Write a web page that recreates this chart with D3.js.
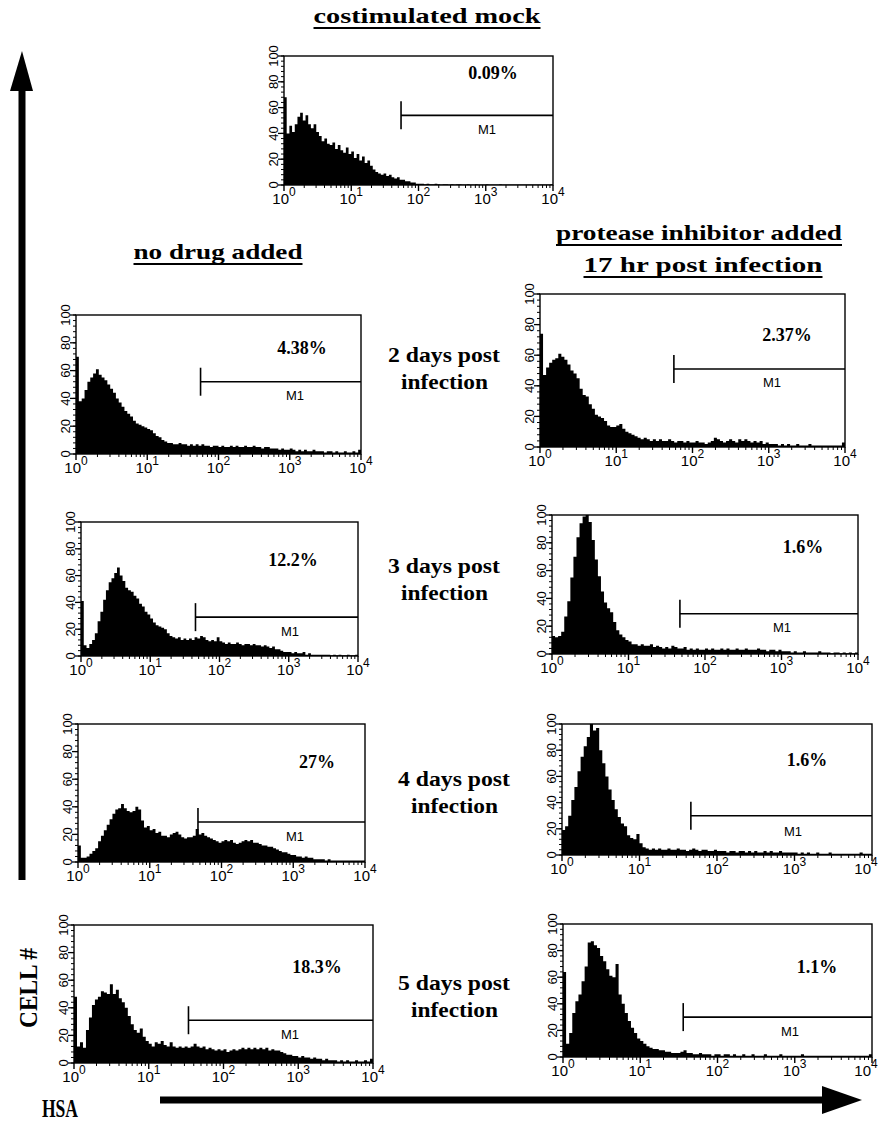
<!DOCTYPE html>
<html><head><meta charset="utf-8">
<script src="https://cdn.jsdelivr.net/npm/d3@7"></script>
<style>body{margin:0;background:#fff}svg{display:block}</style>
</head><body><svg id="c" width="881" height="1125"></svg>
<script>
// ---------- DATA ----------
const panelNames = ["costimulated mock","no drug 2d","PI 2d","no drug 3d","PI 3d","no drug 4d","PI 4d","no drug 5d","PI 5d"];
const percentLabels = ["0.09%","4.38%","2.37%","12.2%","1.6%","27%","1.6%","18.3%","1.1%"];
const m1Start = [55,56,57,45,47,47,46,34,36];   // HSA value where gate M1 starts
const m1Level = [54,52,51,29,29,29,30,31,30];   // cell # level of the M1 bar
const yTickValues = [0,20,40,60,80,100];
const xTickExponents = [0,1,2,3,4];
const rowLabels = ["2 days post","3 days post","4 days post","5 days post"];

// histogram counts, 100 channels over 10^0..10^4 (25 per decade)
const mock = [68,40,46,41,47,53,56,50,54,47, 44,47,41,38,34,36,32,31,33,28, 31,27,25,29,24,26,21,24,19,22, 17,19,15,12,10,9,8,9,7,8, 6,5,6,4,4,3,3,2,2,1, 1,1,0.5,1,0.5,0.5,1,0.5,0.3,0.5, 0.5,0.3,0.5,0.3,0.5,0.5,0.3,0.3,0.5,0.3, 0.3,0.5,0.3,0.3,0.3,0.5,0.3,0.3,0.3,0.3, 0.5,0.3,0.3,0.3,0.3,0.3,0.3,0.3,0.3,0.3, 0.3,0.3,0.3,0.3,0.3,0.3,0.3,0.3,0.3,0.5];
const noDrug2 = [70,38,40,46,52,55,58,61,57,55, 53,50,47,44,40,37,34,31,29,27, 24,22,21,20,19,18,17,15,13,12, 10,9,8,8,7,7,8,7,7,6, 7,6,7,6,7,6,6,5,6,6, 5,6,5,5,6,5,6,5,5,6, 5,5,6,5,5,4,5,5,4,4, 4,3,4,3,3,4,3,2,3,2, 3,2,2,3,2,2,2,1,2,2, 1,2,1,1,2,1,1,2,1,3];
const protInh2 = [74,47,52,55,57,58,61,59,57,54, 50,48,45,38,34,33,28,25,21,20, 19,17,14,13,13,14,15,12,10,9, 8,7,6,5,6,5,4,5,4,5, 4,4,5,4,3,4,4,3,4,3, 3,4,3,3,2,3,4,6,5,4, 3,4,5,4,3,5,4,5,4,3, 4,3,4,2,3,2,2,2,1,2, 1,2,1,1,2,1,1,1,2,1, 1,1,1,1,1,1,1,1,1,3];
const noDrug3 = [41,8,6,9,12,17,26,33,42,49, 55,58,62,66,60,56,51,49,48,45, 43,39,37,33,31,28,25,23,22,21, 20,17,15,14,13,14,12,13,12,13, 12,14,13,15,14,12,11,12,11,14, 11,10,9,10,9,9,10,9,8,9, 9,8,9,8,8,7,8,7,6,7, 5,5,4,3,3,3,2,3,2,2, 3,1,2,1,1,1,1,1,1,1, 0.5,1,0.5,1,0.5,0.5,1,0.5,0.5,1];
const protInh3 = [13,12,13,16,27,38,55,70,84,94, 99,100,95,82,68,56,45,37,33,30, 23,17,14,12,10,9,7,7,6,7, 6,6,7,5,6,5,4,5,4,6, 5,4,4,5,3,4,3,4,3,3, 4,3,4,3,3,4,3,4,3,3, 4,3,3,4,3,3,3,4,3,3, 2,3,3,2,3,2,2,2,1,2, 1,1,2,1,1,1,1,2,1,1, 1,0.5,1,1,0.5,1,0.5,1,0.5,1];
const noDrug4 = [12,3,3,4,6,8,10,15,19,23, 27,31,35,38,39,42,39,37,36,37, 40,38,30,25,26,23,24,21,22,19, 19,18,20,21,22,20,18,17,18,18, 19,24,20,21,19,18,17,16,15,14, 15,16,15,16,14,13,14,15,16,15, 16,14,14,13,12,12,11,11,10,9, 8,7,7,6,5,5,4,4,3,4, 3,3,2,2,2,2,1,2,1,1, 1,1,1,1,1,1,1,1,1,1];
const protInh4 = [19,22,30,42,52,64,75,83,90,100, 95,97,80,70,60,50,42,35,29,24, 22,15,13,12,16,9,6,5,4,5, 4,5,4,4,5,4,4,5,4,4, 3,4,5,4,3,4,4,3,3,4, 3,3,3,2,3,3,2,3,3,2, 3,2,3,2,2,3,2,3,2,2, 3,2,2,2,2,2,1,2,1,2, 1,1,2,1,1,1,2,1,1,1, 1,1,1,1,1,1,2,1,1,1];
const noDrug5 = [48,12,15,11,24,33,42,46,48,52, 51,50,57,50,53,47,44,40,34,28, 24,22,25,19,16,14,12,15,14,16, 13,12,15,12,11,12,11,12,11,12, 14,12,11,12,10,11,10,9,10,9, 10,8,9,10,9,10,11,10,11,10, 11,10,11,10,11,9,10,9,9,8, 7,6,6,5,5,4,5,4,4,3, 4,3,3,2,3,2,2,2,1,2, 1,2,1,1,2,1,1,2,1,3];
const protInh5 = [64,10,18,33,42,47,57,68,86,87, 84,82,76,72,66,61,60,70,47,40, 33,27,22,18,14,12,10,8,7,6, 6,5,5,4,4,3,3,3,4,5, 3,3,2,2,3,2,2,2,1,2, 2,1,2,2,1,2,1,1,2,1, 1,2,1,1,1,2,1,1,1,1, 2,1,1,1,1,1,1,2,1,1, 1,1,1,1,1,1,1,1,1,1, 1,1,1,1,1,1,1,1,1,2];
const seriesList = [mock,noDrug2,protInh2,noDrug3,protInh3,noDrug4,protInh4,noDrug5,protInh5];

// ---------- LAYOUT ----------
const layout = [
  {l:284,r:553,t:56,b:185,  px:493,py:79,  mx:487,my:134},
  {l:76, r:361,t:315,b:454, px:302,py:354, mx:295,my:400},
  {l:540,r:845,t:294,b:447, px:787,py:341, mx:772,my:387},
  {l:81, r:358,t:522,b:656, px:293,py:566, mx:290,my:636},
  {l:552,r:858,t:515,b:654, px:803,py:553, mx:782,my:632},
  {l:78, r:365,t:724,b:862, px:317,py:768, mx:295,my:841},
  {l:562,r:872,t:724,b:855, px:807,py:766, mx:793,my:836},
  {l:74, r:373,t:925,b:1063,px:317,py:973, mx:290,my:1039},
  {l:563,r:872,t:924,b:1057,px:817,py:973, mx:790,my:1036}
];
const SERIF = "'Liberation Serif','Times New Roman',Times,serif";
const SANS = "'Liberation Sans Narrow','Liberation Sans',Arial,sans-serif";

const svg = d3.select("#c");
svg.append("rect").attr("width",881).attr("height",1125).attr("fill","#fff");

seriesList.forEach((vals, k) => {
  const L = layout[k];
  const g = svg.append("g");
  const x = d3.scaleLog().domain([1,1e4]).range([L.l, L.r]);
  const y = d3.scaleLinear().domain([0,100]).range([L.b, L.t]);
  const n = vals.length;
  const pts = vals.map((v,i) => ({x: Math.pow(10, 4*i/n), v: Math.min(v,100)}));
  pts.push({x:1e4, v: vals[n-1]});
  const clipId = "clip"+k;
  g.append("clipPath").attr("id",clipId).append("rect")
    .attr("x",L.l).attr("y",L.t).attr("width",L.r-L.l).attr("height",L.b-L.t);
  g.append("path").datum(pts)
    .attr("clip-path",`url(#${clipId})`)
    .attr("fill","#000")
    .attr("d", d3.area().curve(d3.curveStepAfter).x(d=>x(d.x)).y0(y(0)).y1(d=>y(d.v)));
  // frame
  g.append("rect").attr("x",L.l).attr("y",L.t).attr("width",L.r-L.l).attr("height",L.b-L.t)
    .attr("fill","none").attr("stroke","#000").attr("stroke-width",1.4);
  // y axis: major + minor ticks
  const yMinor = d3.range(0,101,4);
  g.selectAll(".ym").data(yMinor).join("line")
    .attr("x1",L.l).attr("x2",L.l-3).attr("y1",d=>y(d)).attr("y2",d=>y(d))
    .attr("stroke","#000").attr("stroke-width",1);
  g.selectAll(".yM").data(yTickValues).join("line")
    .attr("x1",L.l).attr("x2",L.l-6).attr("y1",d=>y(d)).attr("y2",d=>y(d))
    .attr("stroke","#000").attr("stroke-width",1.3);
  g.selectAll(".yl").data(yTickValues).join("text")
    .attr("transform",d=>`translate(${L.l-11},${y(d)}) rotate(-90)`)
    .attr("text-anchor","middle").attr("dy","0.36em")
    .attr("font-family",SANS).attr("font-size",13).text(d=>d);
  // x axis ticks
  const xMinor = [];
  for (let e=0;e<4;e++) for (let m=2;m<=9;m++) xMinor.push(m*Math.pow(10,e));
  g.selectAll(".xm").data(xMinor).join("line")
    .attr("x1",d=>x(d)).attr("x2",d=>x(d)).attr("y1",L.b).attr("y2",L.b+3)
    .attr("stroke","#000").attr("stroke-width",1);
  g.selectAll(".xM").data(xTickExponents).join("line")
    .attr("x1",d=>x(Math.pow(10,d))).attr("x2",d=>x(Math.pow(10,d))).attr("y1",L.b).attr("y2",L.b+6)
    .attr("stroke","#000").attr("stroke-width",1.4);
  const xl = g.selectAll(".xl").data(xTickExponents).join("text")
    .attr("x",d=>Math.min(x(Math.pow(10,d)), 866)).attr("y",L.b+19)
    .attr("text-anchor","middle").attr("font-family",SANS).attr("font-size",15);
  xl.append("tspan").text("10");
  xl.append("tspan").attr("dy",-8).attr("font-size",12).text(d=>d);
  // M1 gate
  const gx = x(m1Start[k]), gy = y(m1Level[k]);
  g.append("line").attr("x1",gx).attr("x2",gx).attr("y1",gy-14).attr("y2",gy+14)
    .attr("stroke","#000").attr("stroke-width",1.6);
  g.append("line").attr("x1",gx).attr("x2",L.r).attr("y1",gy).attr("y2",gy)
    .attr("stroke","#000").attr("stroke-width",1.6);
  g.append("text").attr("x",L.mx).attr("y",L.my).attr("text-anchor","middle")
    .attr("font-family","'Liberation Sans',Arial,sans-serif").attr("font-size",13).text("M1");
  g.append("text").attr("x",L.px).attr("y",L.py).attr("text-anchor","middle")
    .attr("font-family",SERIF).attr("font-weight","bold").attr("font-size",18).text(percentLabels[k]);
});

// titles
function title(txt, cx, by, len, size, underline) {
  svg.append("text").attr("x",cx).attr("y",by).attr("text-anchor","middle")
    .attr("font-family",SERIF).attr("font-weight","bold").attr("font-size",size)
    .attr("textLength",len).attr("lengthAdjust","spacingAndGlyphs").text(txt);
  if (underline) svg.append("line").attr("x1",cx-len/2).attr("x2",cx+len/2)
    .attr("y1",by+5).attr("y2",by+5).attr("stroke","#000").attr("stroke-width",2);
}
title("costimulated  mock", 427, 23, 227, 22, true);
title("no drug added", 218, 259, 169, 22, true);
title("protease inhibitor added", 699, 240, 286, 22, true);
title("17 hr post infection", 703, 272, 239, 22, true);
const rowY = [362, 573, 786, 990];
const rowX = [444, 444, 454, 454];
rowLabels.forEach((t,i) => {
  title(t, rowX[i], rowY[i], 112, 20, false);
  title("infection", rowX[i]+0.5, rowY[i]+27, 87, 20, false);
});

// axis titles (condensed serif, as in the reference)
svg.append("g").attr("transform","translate(37,988) rotate(-90) scale(0.9,1)")
  .append("text").attr("text-anchor","middle")
  .attr("font-family",SERIF).attr("font-weight","bold").attr("font-size",26).text("CELL #");
svg.append("text").attr("x",60).attr("y",1117).attr("text-anchor","middle")
  .attr("font-family",SERIF).attr("font-weight","bold").attr("font-size",25)
  .attr("textLength",36).attr("lengthAdjust","spacingAndGlyphs").text("HSA");

// arrows
svg.append("rect").attr("x",18.5).attr("y",88).attr("width",7).attr("height",792).attr("fill","#000");
svg.append("path").attr("d","M22,51 L33,91 L10,91 Z").attr("fill","#000");
svg.append("rect").attr("x",160).attr("y",1096.5).attr("width",664).attr("height",7).attr("fill","#000");
svg.append("path").attr("d","M862,1100 L822,1086 L822,1114 Z").attr("fill","#000");
</script>
</body></html>
